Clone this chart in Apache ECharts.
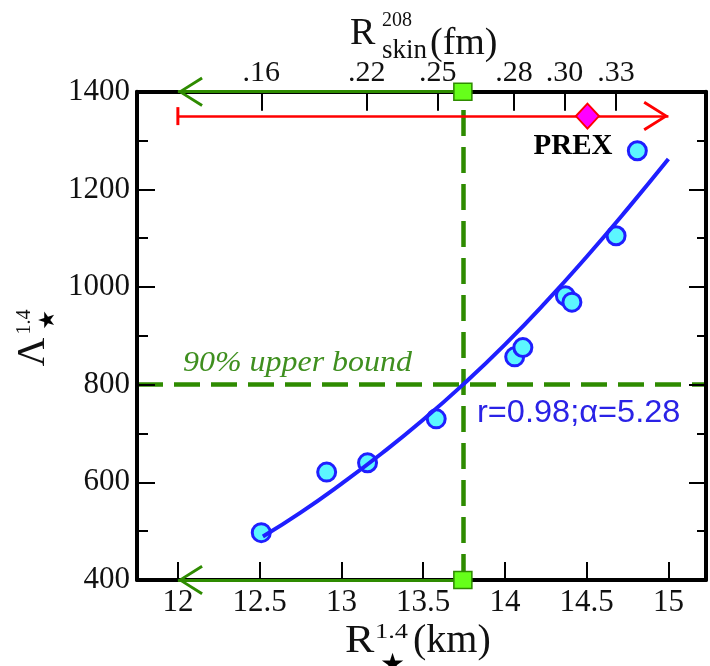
<!DOCTYPE html>
<html><head><meta charset="utf-8">
<script src="https://cdn.jsdelivr.net/npm/echarts@6/dist/echarts.min.js"></script>
<style>html,body{margin:0;padding:0;background:#fff}#c{width:710px;height:666px}</style>
</head><body><div id="c"></div>
<script>
// ---- data ----
const starR = [12.51, 12.91, 13.16, 13.58, 14.06, 14.11, 14.37, 14.41, 14.68, 14.81];
const starLambda = [497, 621, 640, 730, 857, 876, 982, 969, 1105, 1279];
const fitR = [12.52, 12.75, 13.0, 13.25, 13.5, 13.75, 14.0, 14.25, 14.5, 14.75, 15.0];
const fitLambda = [489, 538, 597, 660, 728, 802, 882, 969, 1062, 1160, 1262];
const radiusTicks = [12, 12.5, 13, 13.5, 14, 14.5, 15];
const skinTickR = [12.51, 13.155, 13.59, 14.055, 14.365, 14.68];
const skinTickLabels = ['.16', '.22', '.25', '.28', '.30', '.33'];
const boundR = 13.743;      // radius at the 90% upper bound
const boundLambda = 800;    // 90% upper bound on tidal deformability
const arrowEndR = 12;       // green arrows point to this radius
const prexRange = [12, 15]; // PREX arrow extent
const prexCentral = 14.505;
const prexLambda = 1350;

const GREEN = '#2e8b00';
const SERIF = '"Liberation Serif","DejaVu Serif",serif';
const chevron = 'path://M15,-25L15.02,-25L15,-24.98Z M15,0L30,24L27.5,25.6L15,5.2L2.5,25.6L0,24Z';

const chart = echarts.init(document.getElementById('c'), null, {renderer: 'canvas'});
const xBase = {
  type: 'value', min: 11.75, max: 15.23,
  splitLine: {show: false},
  axisLine: {show: true, onZero: false, lineStyle: {color: '#000', width: 4}}
};
const yBase = {
  type: 'value', min: 400, max: 1400, interval: 200, z: 8,
  splitLine: {show: false},
  axisLine: {show: true, onZero: false, lineStyle: {color: '#000', width: 4}}
};
const dashed = {color: GREEN, width: 4.5, type: [26, 11]};
const option = {
  animation: false,
  backgroundColor: '#fff',
  grid: {left: 137, right: 4, top: 91.7, bottom: 86},
  xAxis: [
    Object.assign({}, xBase, {
      position: 'bottom',
      axisTick: {show: true, inside: true, length: 18, customValues: radiusTicks, lineStyle: {color: '#000', width: 2}},
      axisLabel: {customValues: radiusTicks, margin: 7, fontFamily: SERIF, fontSize: 31, color: '#111',
        formatter: v => String(v)}
    }),
    Object.assign({}, xBase, {
      position: 'top',
      axisTick: {show: true, inside: true, length: 19, customValues: skinTickR, lineStyle: {color: '#000', width: 2}},
      axisLabel: {customValues: skinTickR, margin: 4, fontFamily: SERIF, fontSize: 30, color: '#111',
        formatter: v => {
          const i = skinTickR.findIndex(r => Math.abs(r - v) < 1e-6);
          return i >= 0 ? skinTickLabels[i] : '';
        }}
    })
  ],
  yAxis: [
    Object.assign({}, yBase, {
      position: 'left',
      axisTick: {show: true, inside: true, length: 18, lineStyle: {color: '#000', width: 2}},
      minorTick: {show: true, splitNumber: 2, length: 11, lineStyle: {color: '#000', width: 2}},
      axisLabel: {margin: 7, fontFamily: SERIF, fontSize: 31, color: '#111', formatter: v => String(v)}
    }),
    Object.assign({}, yBase, {
      position: 'right',
      axisTick: {show: true, inside: true, length: 17, lineStyle: {color: '#000', width: 2}},
      minorTick: {show: true, splitNumber: 2, length: 9, lineStyle: {color: '#000', width: 2}},
      axisLabel: {show: false}
    })
  ],
  series: [
    { // guide lines and arrows
      type: 'line', data: [], silent: true, z: 3,
      markLine: {
        silent: true, animation: false, label: {show: false},
        symbol: ['none', 'none'],
        data: [
          [{xAxis: 'min', yAxis: boundLambda, symbol: 'none', lineStyle: dashed},
           {xAxis: 'max', yAxis: boundLambda, symbol: 'none'}],
          [{xAxis: boundR, yAxis: 'min', symbol: 'none', lineStyle: dashed},
           {xAxis: boundR, yAxis: 'max', symbol: 'none'}],
          [{coord: [boundR, 1400], symbol: 'none',
            lineStyle: {color: GREEN, width: 3, type: 'solid'}},
           {coord: [arrowEndR, 1400], symbol: chevron, symbolSize: [30, 50]}],
          [{coord: [boundR, 400], symbol: 'none',
            lineStyle: {color: GREEN, width: 3, type: 'solid'}},
           {coord: [arrowEndR, 400], symbol: chevron, symbolSize: [30, 50]}],
          [{coord: [prexRange[0], prexLambda], symbol: 'rect', symbolSize: [18, 3],
            lineStyle: {color: '#ff0000', width: 2.5, type: 'solid'}},
           {coord: [prexRange[1], prexLambda], symbol: chevron, symbolSize: [30, 50]}]
        ]
      }
    },
    {
      type: 'scatter', z: 4, clip: false,
      data: starR.map((r, i) => [r, starLambda[i]]),
      symbol: 'circle', symbolSize: 18,
      itemStyle: {color: '#5cf6ff', borderColor: '#1f1fff', borderWidth: 3, opacity: 1}
    },
    {
      type: 'line', z: 5, smooth: true, showSymbol: false, symbol: 'none',
      data: fitR.map((r, i) => [r, fitLambda[i]]),
      lineStyle: {color: '#1f1fff', width: 4}
    },
    {
      type: 'scatter', z: 6, clip: false,
      data: [[prexCentral, prexLambda]],
      symbol: 'diamond', symbolSize: [23, 25],
      itemStyle: {color: '#ff00ff', borderColor: '#ff0000', borderWidth: 2, opacity: 1}
    },
    {
      type: 'scatter', z: 9, clip: false,
      data: [[boundR, 1400], [boundR, 400]],
      symbol: 'rect', symbolSize: [18, 17],
      itemStyle: {color: '#66ff1a', borderColor: GREEN, borderWidth: 1.5, opacity: 1}
    }
  ],
  graphic: [
    {type: 'text', x: 183, y: 363, scaleX: 1.065, z: 10, style: {text: '90% upper bound', font: 'italic 30px ' + SERIF, fill: '#3f8f1f', align: 'left', verticalAlign: 'middle'}},
    {type: 'text', x: 573, y: 147, z: 10, style: {text: 'PREX', font: 'bold 29px ' + SERIF, fill: '#000', align: 'center', verticalAlign: 'middle'}},
    {type: 'text', x: 477, y: 413, scaleX: 1.05, z: 10, style: {text: 'r=0.98;\u03b1=5.28', font: '31px "Liberation Sans", Arial, sans-serif', fill: '#2a22e6', align: 'left', verticalAlign: 'middle'}},
    // top axis title
    {type: 'text', x: 350, y: 53, z: 10, style: {text: 'R', font: '38px ' + SERIF, fill: '#111', align: 'left', verticalAlign: 'bottom'}},
    {type: 'text', x: 382, y: 31, z: 10, style: {text: '208', font: '20px ' + SERIF, fill: '#111', align: 'left', verticalAlign: 'bottom'}},
    {type: 'text', x: 382, y: 64, z: 10, style: {text: 'skin', font: '27px ' + SERIF, fill: '#111', align: 'left', verticalAlign: 'bottom'}},
    {type: 'text', x: 430, y: 63, z: 10, style: {text: '(fm)', font: '38px ' + SERIF, fill: '#111', align: 'left', verticalAlign: 'bottom'}},
    // bottom axis title
    {type: 'text', x: 345, y: 661, scaleX: 1.1, z: 10, style: {text: 'R', font: '40px ' + SERIF, fill: '#111', align: 'left', verticalAlign: 'bottom'}},
    {type: 'text', x: 375, y: 643, scaleX: 1.2, z: 10, style: {text: '1.4', font: '22px ' + SERIF, fill: '#111', align: 'left', verticalAlign: 'bottom'}},
    {type: 'text', x: 380, y: 680, z: 10, style: {text: '\u2605', font: '28px "DejaVu Sans", sans-serif', fill: '#000', align: 'left', verticalAlign: 'bottom'}},
    {type: 'text', x: 413, y: 661, z: 10, style: {text: '(km)', font: '40px ' + SERIF, fill: '#111', align: 'left', verticalAlign: 'bottom'}},
    // left axis title (rotated)
    {type: 'text', x: 33, y: 352, rotation: Math.PI / 2, z: 10, style: {text: '\u039b', font: '40px ' + SERIF, fill: '#111', align: 'center', verticalAlign: 'middle'}},
    {type: 'text', x: 25, y: 322, rotation: Math.PI / 2, z: 10, style: {text: '1.4', font: '20px ' + SERIF, fill: '#111', align: 'center', verticalAlign: 'middle'}},
    {type: 'text', x: 48, y: 320, rotation: Math.PI / 2, z: 10, style: {text: '\u2605', font: '22px "DejaVu Sans", sans-serif', fill: '#000', align: 'center', verticalAlign: 'middle'}}
  ]
};
chart.setOption(option);
</script>
</body></html>
